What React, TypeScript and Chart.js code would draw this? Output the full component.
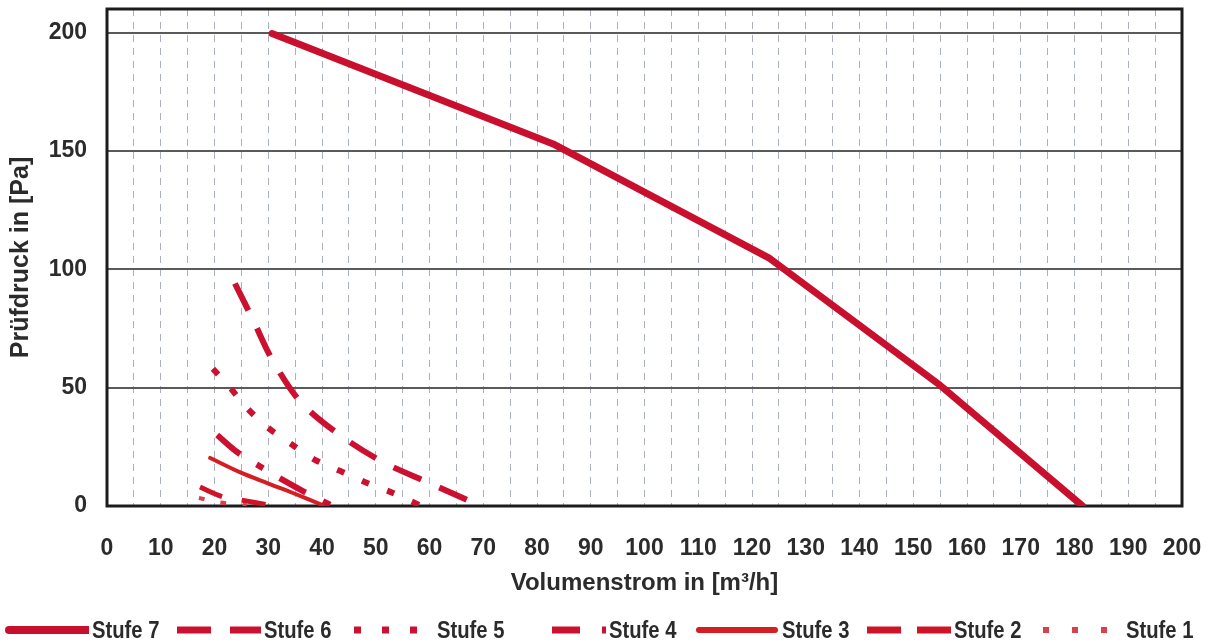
import React, { useEffect, useRef } from "react";
import { Chart, registerables } from "chart.js";

Chart.register(...registerables);

// ---------- data ----------
const seriesNames = ["Stufe 7", "Stufe 6", "Stufe 5", "Stufe 4", "Stufe 3", "Stufe 2", "Stufe 1"];

const stufe7: [number, number][] = [[30.7, 199.6], [83, 153], [123.3, 104.6], [155, 51], [181.5, 0]];
const stufe6: [number, number][] = [[23.8, 94], [27.3, 78], [30.7, 62], [36, 44], [43.3, 30], [51.3, 18.6], [60, 9.7], [69.5, 0]];
const stufe5: [number, number][] = [[19.7, 58], [22.9, 50], [26.2, 41], [30, 33], [34.4, 26], [38.7, 19.5], [43.9, 14.3], [48.4, 9.7], [53.2, 5.5], [58.5, 0]];
const stufe4: [number, number][] = [[20.5, 30], [24.2, 22.8], [29, 16], [32.7, 11], [36.8, 5.9], [42, 0]];
const stufe3: [number, number][] = [[19.2, 20.3], [24.7, 14.3], [29.8, 9.7], [34.6, 5.5], [40.2, 0.3]];
const stufe2: [number, number][] = [[17.3, 8], [21.4, 4], [25, 2.5], [30, 0.5]];
const stufe1: [number, number][] = [[17.1, 3.4], [21, 1.5], [26, 0.3]];

const seriesData = [stufe7, stufe6, stufe5, stufe4, stufe3, stufe2, stufe1];

const xMin = 0;
const xMax = 200;
const xStep = 5;
const xLabelEvery = 10;
const yMin = 0;
const yMax = 210;
const yTickValues = [0, 50, 100, 150, 200];

const xTitle = "Volumenstrom in [m³/h]";
const yTitle = "Prüfdruck in [Pa]";

// ---------- styles ----------
const styles = [
  { color: "#c8102e", width: 7, dash: [] as number[], cap: "round", tension: 0 },
  { color: "#cc1030", width: 6, dash: [30, 20], cap: "butt", tension: 0.3 },
  { color: "#cc1030", width: 6, dash: [8, 19], cap: "butt", tension: 0.3 },
  { color: "#cc1030", width: 6, dash: [30, 19, 8, 19], cap: "butt", tension: 0.3 },
  { color: "#d41e24", width: 4, dash: [] as number[], cap: "round", tension: 0.3 },
  { color: "#d01428", width: 5, dash: [24, 20], cap: "butt", tension: 0.3 },
  { color: "#d8404c", width: 4, dash: [6, 16], cap: "butt", tension: 0.3 },
];

const legendSamples = [
  { x1: 4, x2: 84, w: 8, dash: "", cap: "round" },
  { x1: 0, x2: 84, w: 7, dash: "34 19", cap: "butt" },
  { x1: 4, x2: 84, w: 7, dash: "7 21", cap: "butt" },
  { x1: 30, x2: 84, w: 7, dash: "28 22 6 40", cap: "butt" },
  { x1: 4, x2: 80, w: 6, dash: "", cap: "round" },
  { x1: 0, x2: 84, w: 7, dash: "34 16", cap: "butt" },
  { x1: 4, x2: 84, w: 6, dash: "6 23", cap: "butt" },
];

const textColor = "#2b2b2b";
const fontFamily = "'Liberation Sans', Arial, sans-serif";

const framePlugin = {
  id: "frame",
  beforeDatasetsDraw(chart: any) {
    const { ctx, chartArea } = chart;
    const { left, top, right, bottom } = chartArea;
    ctx.save();
    ctx.strokeStyle = "#1c1c1c";
    ctx.lineWidth = 3;
    ctx.strokeRect(left, top, right - left, bottom - top);
    ctx.restore();
  },
};

const zeroPad = (s: any) => {
  s.paddingTop = 0;
  s.paddingBottom = 0;
  s.paddingLeft = 0;
  s.paddingRight = 0;
};

export default function App() {
  const canvasRef = useRef<HTMLCanvasElement | null>(null);

  useEffect(() => {
    if (!canvasRef.current) return;
    const chart = new Chart(canvasRef.current, {
      type: "line",
      data: {
        datasets: seriesData.map((pts, i) => ({
          label: seriesNames[i],
          data: pts.map(([x, y]) => ({ x, y })),
          borderColor: styles[i].color,
          backgroundColor: styles[i].color,
          borderWidth: styles[i].width,
          borderDash: styles[i].dash,
          borderCapStyle: styles[i].cap as any,
          borderJoinStyle: "round",
          tension: styles[i].tension,
          pointRadius: 0,
          fill: false,
        })),
      },
      options: {
        animation: false,
        responsive: false,
        layout: { padding: { top: 9, right: 32, left: 0, bottom: 0 } },
        plugins: {
          legend: { display: false },
          tooltip: { enabled: false },
        },
        scales: {
          x: {
            type: "linear",
            min: xMin,
            max: xMax,
            afterFit: (s: any) => {
              s.height = 138;
              zeroPad(s);
            },
            ticks: {
              stepSize: xStep,
              autoSkip: false,
              maxRotation: 0,
              padding: 29,
              color: textColor,
              font: { family: fontFamily, size: 23, weight: "bold" },
              callback: (v: any) => (Number(v) % xLabelEvery === 0 ? String(v) : ""),
            },
            grid: {
              color: "#aab0be",
              lineWidth: 1,
              drawTicks: false,
            },
            border: { display: false, dash: [7, 6] },
            title: {
              display: true,
              text: xTitle,
              color: textColor,
              font: { family: fontFamily, size: 24, weight: "bold" },
              padding: { top: 0, bottom: 46 },
            },
          },
          y: {
            type: "linear",
            min: yMin,
            max: yMax,
            afterFit: (s: any) => {
              s.width = 107;
              zeroPad(s);
            },
            afterBuildTicks: (s: any) => {
              s.ticks = yTickValues.map((v) => ({ value: v }));
            },
            ticks: {
              padding: 20,
              color: textColor,
              font: { family: fontFamily, size: 23, weight: "bold" },
            },
            grid: {
              color: "#5a5a5a",
              lineWidth: 2,
              drawTicks: false,
            },
            border: { display: false },
            title: {
              display: true,
              text: yTitle,
              color: textColor,
              font: { family: fontFamily, size: 25, weight: "bold" },
              padding: { top: 6, bottom: 0 },
            },
          },
        },
      },
      plugins: [framePlugin],
    });
    return () => chart.destroy();
  }, []);

  return (
    <div style={{ position: "absolute", left: 0, top: 0, width: 1214, height: 644, background: "#fff" }}>
      <canvas ref={canvasRef} width={1214} height={644} style={{ width: 1214, height: 644, display: "block" }} />
      {seriesNames.map((name, i) => {
        const s = legendSamples[i];
        return (
          <div
            key={name}
            style={{
              position: "absolute",
              left: 5 + i * 172.4,
              top: 617,
              height: 26,
              display: "flex",
              alignItems: "center",
              whiteSpace: "nowrap",
            }}
          >
            <svg width={84} height={26} style={{ display: "block" }}>
              <line
                x1={s.x1}
                y1={13}
                x2={s.x2}
                y2={13}
                stroke={styles[i].color}
                strokeWidth={s.w}
                strokeDasharray={s.dash || undefined}
                strokeLinecap={s.cap as any}
              />
            </svg>
            <span
              style={{
                marginLeft: 3,
                display: "inline-block",
                transform: "scaleX(0.88)",
                transformOrigin: "left center",
                font: "bold 23px 'Liberation Sans', Arial, sans-serif",
                color: textColor,
                lineHeight: "26px",
              }}
            >
              {name}
            </span>
          </div>
        );
      })}
    </div>
  );
}
